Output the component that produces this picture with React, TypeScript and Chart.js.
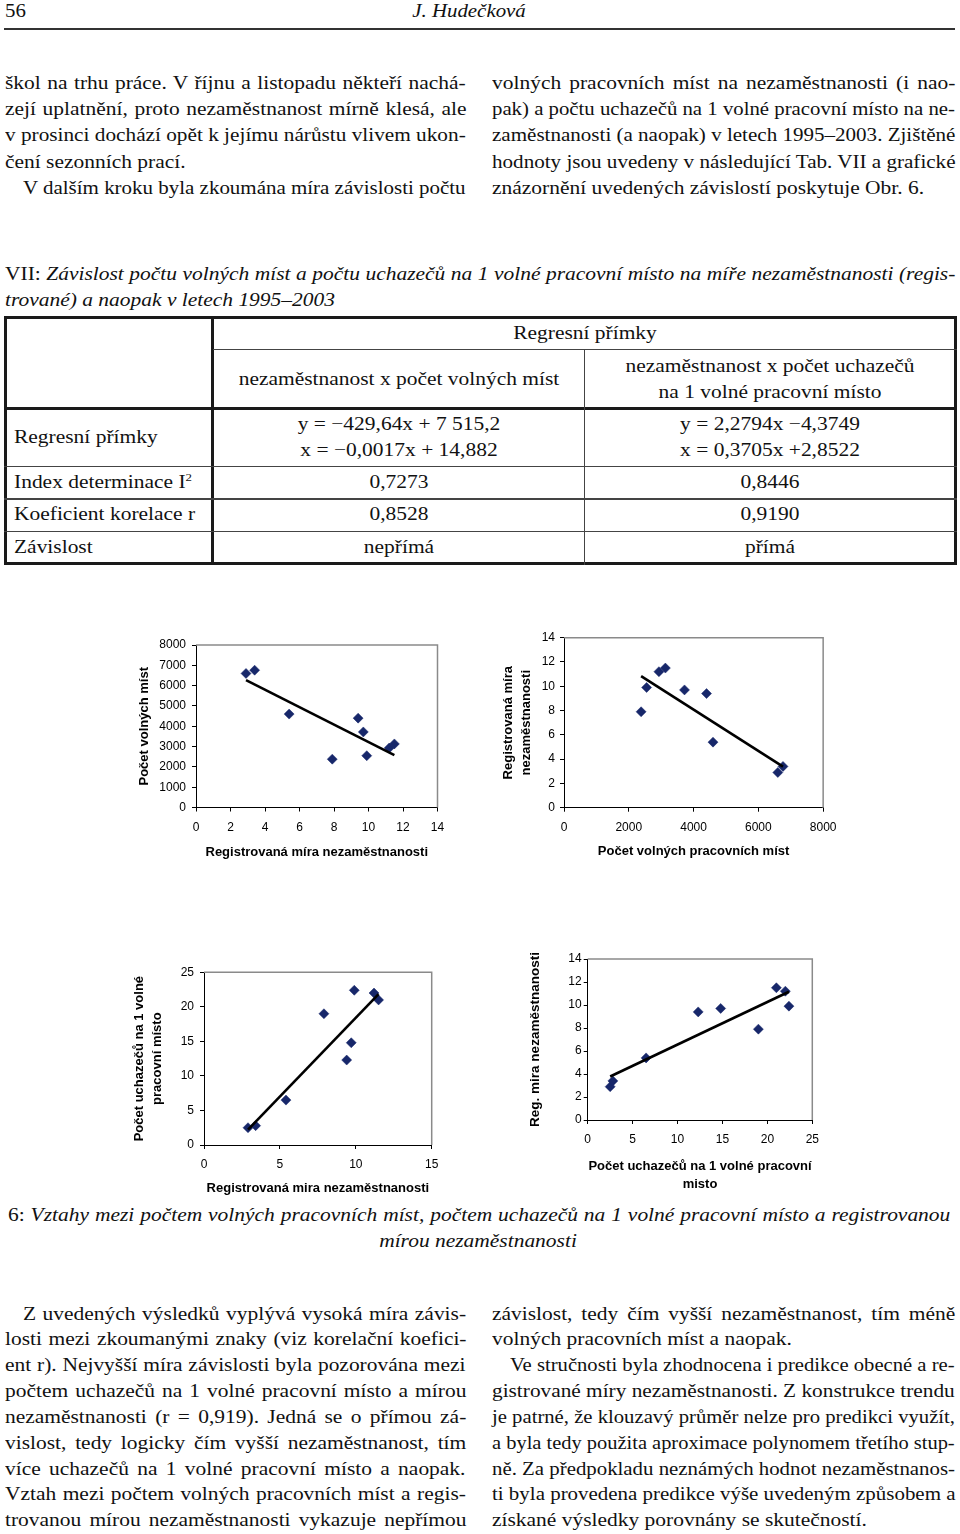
import React, { useEffect, useLayoutEffect, useRef } from 'react';
import { Chart, registerables } from 'chart.js';

Chart.register(...registerables);

// ---------------- DATA ----------------
// Registered unemployment rate (%), 1995–2003 observations
const unemploymentRate = [2.9, 3.4, 5.4, 7.9, 9.4, 9.7, 9.9, 11.2, 11.5];
// Number of vacancies
const vacancies = [6600, 6760, 4600, 2380, 4400, 3720, 2550, 2930, 3130];
// Applicants per 1 vacancy
const applicantsPerVacancy = [2.5, 2.8, 6.5, 19.0, 12.3, 14.8, 22.4, 22.0, 21.0];

// Regression lines from Tab. VII: [slope, intercept]
const regVacanciesOnRate = [-429.64, 7515.2];
const regRateOnVacancies = [-0.0017, 14.882];
const regApplicantsOnRate = [2.2794, -4.3749];
const regRateOnApplicants = [0.3705, 2.8522];

// Axis ranges: [min, max, step]
const axisRate14 = [0, 14, 2];
const axisVac8000 = [0, 8000, 1000];
const axisVac8000b = [0, 8000, 2000];
const axisRate15 = [0, 15, 5];
const axisAppl25 = [0, 25, 5];

// ---------------- STYLE CONSTANTS ----------------
const SERIF = '"Liberation Serif", "Times New Roman", Times, serif';
const SANS = '"Liberation Sans", Arial, Helvetica, sans-serif';
const FS = 18.5;
const STRETCH = 1.16;
const NAVY = '#17276a';

// ---------------- TEXT LINE ----------------
type LineProps = {
  x: number;
  w?: number;
  base: number;
  size?: number;
  justify?: boolean;
  center?: boolean;
  italic?: boolean;
  children: React.ReactNode;
};

function TLine({ x, w = 0, base, size = FS, justify = false, center = false, italic = false, children }: LineProps) {
  const ref = useRef<HTMLSpanElement>(null);
  useLayoutEffect(() => {
    const el = ref.current;
    if (!el) return;
    el.style.wordSpacing = '0px';
    el.style.transform = 'none';
    const nat = el.offsetWidth;
    let sc = STRETCH;
    if (justify && w > 0) {
      const n = (el.textContent || '').split(' ').length - 1;
      const target = w / STRETCH;
      if (nat < target && n > 0) {
        el.style.wordSpacing = (target - nat) / n + 'px';
      } else {
        sc = w / nat;
      }
    }
    el.style.transform = center ? `translateX(-50%) scaleX(${sc})` : `scaleX(${sc})`;
  });
  const top = base - 0.8375 * size;
  return (
    <div
      style={{
        position: 'absolute',
        left: x,
        top,
        lineHeight: size + 'px',
        fontSize: size,
        fontFamily: SERIF,
        fontStyle: italic ? 'italic' : 'normal',
        whiteSpace: 'pre',
        color: '#111',
      }}
    >
      <span
        ref={ref}
        style={{ display: 'inline-block', transformOrigin: center ? 'center' : 'left', whiteSpace: 'pre' }}
      >
        {children}
      </span>
    </div>
  );
}

function Rule({ x, y, w, h, c = '#222' }: { x: number; y: number; w: number; h: number; c?: string }) {
  return <div style={{ position: 'absolute', left: x, top: y, width: w, height: h, background: c }} />;
}

// ---------------- CHART ----------------
const framePlugin = {
  id: 'plotFrame',
  beforeDatasetsDraw(chart: any) {
    const { ctx, chartArea: a } = chart;
    ctx.save();
    ctx.strokeStyle = '#8a8a8a';
    ctx.lineWidth = 1.5;
    ctx.beginPath();
    ctx.moveTo(a.left, a.top);
    ctx.lineTo(a.right, a.top);
    ctx.lineTo(a.right, a.bottom);
    ctx.stroke();
    ctx.restore();
  },
};

type Spec = {
  box: { x: number; y: number; w: number; h: number };
  area: { l: number; r: number; t: number; b: number };
  xs: number[];
  ys: number[];
  reg: number[];
  xAxis: number[];
  yAxis: number[];
  xTitle: string | string[];
  xTitleY: number;
  xTitleLH: number;
  yTitle: string | string[];
  yTitleX: number;
  yTitleLH: number;
  yTitleSize: number;
  yTickPad: number;
};

function ScatterChart({ spec }: { spec: Spec }) {
  const ref = useRef<HTMLCanvasElement>(null);
  useEffect(() => {
    const s = spec;
    const canvas = ref.current;
    if (!canvas) return;
    const yW = s.area.l - s.box.x;
    const xH = s.box.y + s.box.h - s.area.b;
    const nX = Array.isArray(s.xTitle) ? s.xTitle.length : 1;
    const xPadBottom = s.box.y + s.box.h - s.xTitleY - s.xTitleLH / 2 - s.xTitleLH * (nX - 1);
    const yPadTop = s.yTitleX - s.box.x - s.yTitleLH / 2;
    const lx = [Math.min(...s.xs), Math.max(...s.xs)];
    const tickFont = { family: SANS, size: 12 };
    const grid = { display: true, drawOnChartArea: false, drawTicks: true, tickLength: 4, color: '#000', lineWidth: 1 };
    const border = { display: true, color: '#000', width: 1 };
    const chart = new Chart(canvas, {
      type: 'scatter',
      data: {
        datasets: [
          {
            data: lx.map((x) => ({ x, y: s.reg[0] * x + s.reg[1] })),
            showLine: true,
            borderColor: '#000',
            borderWidth: 2.6,
            pointRadius: 0,
            fill: false,
          } as any,
          {
            data: s.xs.map((x, i) => ({ x, y: s.ys[i] })),
            pointStyle: 'rectRot',
            pointRadius: 5,
            backgroundColor: NAVY,
            borderColor: NAVY,
            borderWidth: 0.5,
          } as any,
        ],
      },
      options: {
        animation: false,
        responsive: false,
        devicePixelRatio: 1,
        layout: {
          padding: { left: 0, top: s.area.t - s.box.y, right: s.box.x + s.box.w - s.area.r, bottom: 0 },
        },
        plugins: { legend: { display: false }, tooltip: { enabled: false } },
        scales: {
          x: {
            type: 'linear',
            min: s.xAxis[0],
            max: s.xAxis[1],
            afterFit: (sc: any) => {
              sc.height = xH;
            },
            ticks: {
              stepSize: s.xAxis[2],
              font: tickFont,
              color: '#000',
              padding: 8.5,
              maxRotation: 0,
              autoSkip: false,
              callback: (v: any) => String(v),
            },
            grid,
            border,
            title: {
              display: true,
              text: s.xTitle,
              color: '#000',
              font: { family: SANS, size: 13, weight: 'bold', lineHeight: s.xTitleLH + 'px' },
              padding: { top: 0, bottom: xPadBottom },
            },
          } as any,
          y: {
            type: 'linear',
            min: s.yAxis[0],
            max: s.yAxis[1],
            afterFit: (sc: any) => {
              sc.width = yW;
            },
            ticks: {
              stepSize: s.yAxis[2],
              font: tickFont,
              color: '#000',
              padding: s.yTickPad,
              autoSkip: false,
              callback: (v: any) => String(v),
            },
            grid,
            border,
            title: {
              display: true,
              text: s.yTitle,
              color: '#000',
              font: { family: SANS, size: s.yTitleSize, weight: 'bold', lineHeight: s.yTitleLH + 'px' },
              padding: { top: yPadTop, bottom: 0 },
            },
          } as any,
        },
      },
      plugins: [framePlugin],
    });
    return () => chart.destroy();
  }, [spec]);
  return (
    <canvas
      ref={ref}
      width={spec.box.w}
      height={spec.box.h}
      style={{ position: 'absolute', left: spec.box.x, top: spec.box.y, width: spec.box.w, height: spec.box.h }}
    />
  );
}

const chart1: Spec = {
  box: { x: 115, y: 625, w: 345, h: 245 },
  area: { l: 196, r: 437.5, t: 645, b: 807.5 },
  xs: unemploymentRate,
  ys: vacancies,
  reg: regVacanciesOnRate,
  xAxis: axisRate14,
  yAxis: axisVac8000,
  xTitle: 'Registrovaná míra nezaměstnanosti',
  xTitleY: 852,
  xTitleLH: 16,
  yTitle: 'Počet volných míst',
  yTitleX: 144,
  yTitleLH: 16,
  yTitleSize: 13,
  yTickPad: 6,
};

const chart2: Spec = {
  box: { x: 490, y: 620, w: 355, h: 250 },
  area: { l: 564, r: 826.7, t: 637.7, b: 807.7 },
  xs: vacancies,
  ys: unemploymentRate,
  reg: regRateOnVacancies,
  xAxis: axisVac8000b,
  yAxis: axisRate14,
  xTitle: 'Počet volných pracovních míst',
  xTitleY: 851,
  xTitleLH: 16,
  yTitle: ['Registrovaná míra', 'nezaměstnanosti'],
  yTitleX: 508,
  yTitleLH: 18.5,
  yTitleSize: 13,
  yTickPad: 5,
};

const chart3: Spec = {
  box: { x: 120, y: 950, w: 335, h: 255 },
  area: { l: 204, r: 431.7, t: 972.3, b: 1145 },
  xs: unemploymentRate,
  ys: applicantsPerVacancy,
  reg: regApplicantsOnRate,
  xAxis: axisRate15,
  yAxis: axisAppl25,
  xTitle: 'Registrovaná mira nezaměstnanosti',
  xTitleY: 1188,
  xTitleLH: 16,
  yTitle: ['Počet uchazečů na 1 volné', 'pracovní místo'],
  yTitleX: 139,
  yTitleLH: 18.5,
  yTitleSize: 13,
  yTickPad: 6,
};

const chart4: Spec = {
  box: { x: 515, y: 940, w: 320, h: 260 },
  area: { l: 587.7, r: 812.3, t: 959, b: 1120 },
  xs: applicantsPerVacancy,
  ys: unemploymentRate,
  reg: regRateOnApplicants,
  xAxis: axisAppl25,
  yAxis: axisRate14,
  xTitle: ['Počet uchazečů na 1 volné pracovní', 'misto'],
  xTitleY: 1166.7,
  xTitleLH: 17.5,
  yTitle: 'Reg. mira nezaměstnanosti',
  yTitleX: 535,
  yTitleLH: 16,
  yTitleSize: 13.5,
  yTickPad: 2,
};

// ---------------- TEXT CONTENT ----------------
const topLeft = [
  'škol na trhu práce. V říjnu a listopadu někteří nachá-',
  'zejí uplatnění, proto nezaměstnanost mírně klesá, ale',
  'v prosinci dochází opět k jejímu nárůstu vlivem ukon-',
  'čení sezonních prací.',
  'V dalším kroku byla zkoumána míra závislosti počtu',
];
const topRight = [
  'volných pracovních míst na nezaměstnanosti (i nao-',
  'pak) a počtu uchazečů na 1 volné pracovní místo na ne-',
  'zaměstnanosti (a naopak) v letech 1995–2003. Zjištěné',
  'hodnoty jsou uvedeny v následující Tab. VII a grafické',
  'znázornění uvedených závislostí poskytuje Obr. 6.',
];
const bottomLeft = [
  'Z uvedených výsledků vyplývá vysoká míra závis-',
  'losti mezi zkoumanými znaky (viz korelační koefici-',
  'ent r). Nejvyšší míra závislosti byla pozorována mezi',
  'počtem uchazečů na 1 volné pracovní místo a mírou',
  'nezaměstnanosti (r = 0,919). Jedná se o přímou zá-',
  'vislost, tedy logicky čím vyšší nezaměstnanost, tím',
  'více uchazečů na 1 volné pracovní místo a naopak.',
  'Vztah mezi počtem volných pracovních míst a regis-',
  'trovanou mírou nezaměstnanosti vykazuje nepřímou',
];
const bottomRight = [
  'závislost, tedy čím vyšší nezaměstnanost, tím méně',
  'volných pracovních míst a naopak.',
  'Ve stručnosti byla zhodnocena i predikce obecné a re-',
  'gistrované míry nezaměstnanosti. Z konstrukce trendu',
  'je patrné, že klouzavý průměr nelze pro predikci využít,',
  'a byla tedy použita aproximace polynomem třetího stup-',
  'ně. Za předpokladu neznámých hodnot nezaměstnanos-',
  'ti byla provedena predikce výše uvedeným způsobem a',
  'získané výsledky porovnány se skutečností.',
];

const LX = 5;
const LW = 461;
const RX = 492;
const RW = 463;
const INDENT = 18;

export default function App() {
  const topBase = (i: number) => 89.5 + 26.2 * i;
  const botBase = (i: number) => 1320 + 25.85 * i;
  const C1 = 398.5;
  const C2 = 770;
  return (
    <div
      style={{
        position: 'absolute',
        left: 0,
        top: 0,
        width: 960,
        height: 1534,
        overflow: 'hidden',
        background: '#fff',
      }}
    >
      {/* Header */}
      <TLine x={5} base={17} size={18}>56</TLine>
      <TLine x={469} base={17} size={18} center italic>J. Hudečková</TLine>
      <Rule x={4} y={28} w={951} h={2} c="#333" />

      {/* Top paragraphs */}
      {topLeft.map((t, i) => (
        <TLine
          key={'tl' + i}
          x={i === 4 ? LX + INDENT : LX}
          w={i === 4 ? LW - INDENT : LW}
          base={topBase(i)}
          justify={i !== 3}
        >
          {t}
        </TLine>
      ))}
      {topRight.map((t, i) => (
        <TLine key={'tr' + i} x={RX} w={RW} base={topBase(i)} justify={i !== 4}>
          {t}
        </TLine>
      ))}

      {/* Table caption */}
      <TLine x={5} w={950} base={280.5} italic justify>
        <span style={{ fontStyle: 'normal' }}>VII: </span>
        Závislost počtu volných míst a počtu uchazečů na 1 volné pracovní místo na míře nezaměstnanosti (regis-
      </TLine>
      <TLine x={5} base={306} italic>
        trované) a naopak v letech 1995–2003
      </TLine>

      {/* Table grid */}
      <div
        style={{
          position: 'absolute',
          left: 4,
          top: 316,
          width: 953,
          height: 249,
          border: '3px solid #1a1a1a',
          boxSizing: 'border-box',
        }}
      />
      <Rule x={211} y={316} w={3} h={249} c="#1a1a1a" />
      <Rule x={4} y={406.5} w={953} h={3} c="#1a1a1a" />
      <Rule x={213} y={348.5} w={744} h={1.5} c="#444" />
      <Rule x={583.5} y={349} w={1.5} h={216} c="#444" />
      <Rule x={4} y={465.5} w={953} h={1.5} c="#444" />
      <Rule x={4} y={498} w={953} h={1.5} c="#444" />
      <Rule x={4} y={530.5} w={953} h={1.5} c="#444" />

      {/* Table text */}
      <TLine x={584.5} base={339.5} center>Regresní přímky</TLine>
      <TLine x={C1} base={385} center>nezaměstnanost x počet volných míst</TLine>
      <TLine x={C2} base={372.5} center>nezaměstnanost x počet uchazečů</TLine>
      <TLine x={C2} base={398} center>na 1 volné pracovní místo</TLine>

      <TLine x={14} base={443}>Regresní přímky</TLine>
      <TLine x={C1} base={430.5} center>y = −429,64x + 7 515,2</TLine>
      <TLine x={C1} base={456} center>x = −0,0017x + 14,882</TLine>
      <TLine x={C2} base={430.5} center>y = 2,2794x −4,3749</TLine>
      <TLine x={C2} base={456} center>x = 0,3705x +2,8522</TLine>

      <TLine x={14} base={488}>
        Index determinace I
        <span style={{ fontSize: '0.6em', position: 'relative', top: '-0.6em' }}>2</span>
      </TLine>
      <TLine x={C1} base={488} center>0,7273</TLine>
      <TLine x={C2} base={488} center>0,8446</TLine>

      <TLine x={14} base={520}>Koeficient korelace r</TLine>
      <TLine x={C1} base={520} center>0,8528</TLine>
      <TLine x={C2} base={520} center>0,9190</TLine>

      <TLine x={14} base={553}>Závislost</TLine>
      <TLine x={C1} base={553} center>nepřímá</TLine>
      <TLine x={C2} base={553} center>přímá</TLine>

      {/* Charts */}
      <ScatterChart spec={chart1} />
      <ScatterChart spec={chart2} />
      <ScatterChart spec={chart3} />
      <ScatterChart spec={chart4} />

      {/* Figure caption */}
      <TLine x={8} w={942} base={1221.5} italic justify>
        <span style={{ fontStyle: 'normal' }}>6: </span>
        Vztahy mezi počtem volných pracovních míst, počtem uchazečů na 1 volné pracovní místo a registrovanou
      </TLine>
      <TLine x={478} base={1247.5} italic center>mírou nezaměstnanosti</TLine>

      {/* Bottom paragraphs */}
      {bottomLeft.map((t, i) => (
        <TLine
          key={'bl' + i}
          x={i === 0 ? LX + INDENT : LX}
          w={i === 0 ? LW - INDENT : LW}
          base={botBase(i)}
          justify
        >
          {t}
        </TLine>
      ))}
      {bottomRight.map((t, i) => (
        <TLine
          key={'br' + i}
          x={i === 2 ? RX + INDENT : RX}
          w={i === 2 ? RW - INDENT : RW}
          base={botBase(i)}
          justify={i !== 1 && i !== 8}
        >
          {t}
        </TLine>
      ))}
    </div>
  );
}
